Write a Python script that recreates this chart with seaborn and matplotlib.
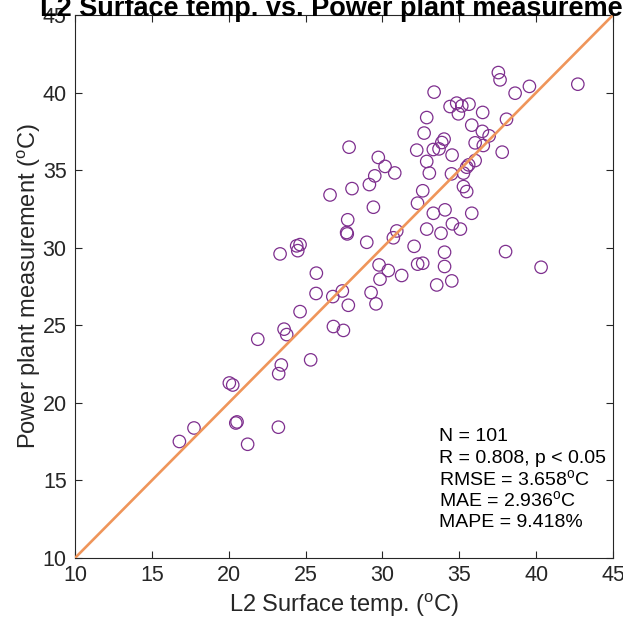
import numpy as np
import pandas as pd
import matplotlib
matplotlib.use("Agg")
import matplotlib.pyplot as plt
import seaborn as sns

# L2 surface temperature (x) vs power plant measurement (y), degrees C
l2_temp = [
    16.79, 17.74, 20.04, 20.26, 20.46, 20.54, 21.23, 21.89, 23.23, 23.25,
    23.42, 23.60, 23.77, 24.64, 26.59, 23.34, 24.42, 24.64, 24.49, 25.70,
    25.68, 26.77, 33.36, 34.40, 34.83, 35.16, 35.63, 34.94, 36.52, 32.88,
    35.81, 32.71, 36.50, 36.94, 27.83, 32.23, 33.31, 33.68, 34.01, 33.86,
    36.03, 36.56, 34.53, 29.73, 32.88, 30.17, 36.03, 35.61, 35.48, 30.80,
    29.50, 33.05, 34.49, 35.27, 29.15, 28.02, 32.62, 35.27, 35.48, 29.41,
    32.28, 33.31, 34.07, 35.81, 27.74, 27.67, 27.71, 32.88, 34.55, 33.81,
    35.07, 30.93, 30.71, 28.98, 32.06, 34.04, 32.29, 32.62, 34.04, 29.78,
    30.38, 31.25, 29.84, 33.53, 34.51, 27.39, 29.26, 27.78, 29.58, 26.81,
    27.46, 37.54, 37.65, 39.56, 38.63, 42.71, 38.07, 37.79, 38.01, 40.32,
    25.33,
]
plant_temp = [
    17.51, 18.38, 21.28, 21.15, 18.70, 18.77, 17.33, 24.10, 18.43, 21.88,
    22.44, 24.75, 24.40, 25.88, 33.40, 29.60, 30.12, 30.20, 29.81, 28.36,
    27.05, 26.85, 40.03, 39.10, 39.32, 39.14, 39.25, 38.63, 38.72, 38.39,
    37.90, 37.39, 37.50, 37.21, 36.48, 36.29, 36.33, 36.37, 37.00, 36.78,
    36.76, 36.59, 35.97, 35.82, 35.56, 35.24, 35.62, 35.34, 35.19, 34.82,
    34.63, 34.81, 34.76, 34.81, 34.07, 33.81, 33.67, 33.94, 33.62, 32.61,
    32.87, 32.22, 32.44, 32.22, 31.80, 30.98, 30.89, 31.20, 31.54, 30.93,
    31.20, 31.08, 30.64, 30.35, 30.09, 29.71, 28.94, 29.00, 28.79, 28.89,
    28.53, 28.21, 27.97, 27.60, 27.86, 27.21, 27.11, 26.29, 26.38, 24.92,
    24.67, 41.29, 40.82, 40.40, 39.96, 40.54, 38.28, 36.16, 29.75, 28.74,
    22.77,
]

stats_lines = [
    "N = 101",
    "R = 0.808, p < 0.05",
    "RMSE = 3.658$^{\\mathrm{o}}$C",
    "MAE = 2.936$^{\\mathrm{o}}$C",
    "MAPE = 9.418%",
]

axis_range = [10, 45]
tick_vals = [10, 15, 20, 25, 30, 35, 40, 45]

df = pd.DataFrame({"l2": l2_temp, "plant": plant_temp})

sns.set_style("ticks")
plt.rcParams["font.family"] = ["Liberation Sans", "DejaVu Sans"]
plt.rcParams["mathtext.fontset"] = "custom"
plt.rcParams["mathtext.rm"] = "Liberation Sans"
plt.rcParams["mathtext.it"] = "Liberation Sans:italic"

ink = "#262626"
purple = "#7E2F8E"
orange = "#EF955A"

fig = plt.figure(figsize=(6.23, 6.28), dpi=100)
ax = fig.add_axes([0.1204, 0.1115, 0.8636, 0.8646])

sns.scatterplot(data=df, x="l2", y="plant", ax=ax, marker="o", s=80,
                color="none", edgecolor=purple, linewidth=0.9, zorder=2)
ax.plot(axis_range, axis_range, color=orange, lw=1.9, zorder=3)

ax.set_xlim(axis_range)
ax.set_ylim(axis_range)
ax.set_xticks(tick_vals)
ax.set_yticks(tick_vals)
ax.tick_params(direction="in", top=True, right=True, length=5, width=0.8,
               colors=ink, labelsize=15.5)
ax.tick_params(axis="x", pad=5)
ax.tick_params(axis="y", pad=6)
for sp in ax.spines.values():
    sp.set_visible(True)
    sp.set_color(ink)
    sp.set_linewidth(0.8)

ax.set_xlabel("L2 Surface temp. ($^{\\mathrm{o}}$C)", fontsize=17, color=ink, labelpad=4)
ax.set_ylabel("Power plant measurement ($^{\\mathrm{o}}$C)", fontsize=17, color=ink, labelpad=0)
ax.set_title("L2 Surface temp. vs. Power plant measurement", fontsize=19.5,
             fontweight="bold", color="black", pad=-1)

baselines = [17.54, 16.12, 14.71, 13.35, 11.99]
for txt, yb in zip(stats_lines, baselines):
    ax.text(33.7, yb, txt, fontsize=14, color="black", va="baseline", ha="left")

fig.savefig("out.png", dpi=100)
